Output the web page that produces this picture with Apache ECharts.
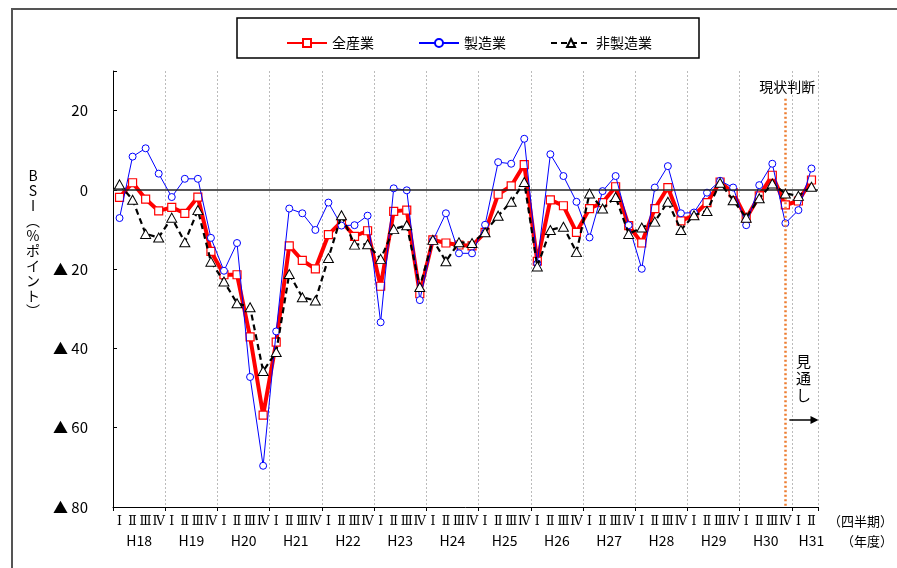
<!DOCTYPE html>
<html><head><meta charset="utf-8">
<script src="https://cdn.jsdelivr.net/npm/echarts@6/dist/echarts.min.js"></script>
<style>html,body{margin:0;padding:0;background:#fff}#c{width:897px;height:568px}</style>
</head><body><div id="c"></div>
<script>
// ---- data ----
const years = ['H18','H19','H20','H21','H22','H23','H24','H25','H26','H27','H28','H29','H30','H31'];
const quarterNames = ['Ⅰ','Ⅱ','Ⅲ','Ⅳ'];
const quartersInLastYear = 2;
const allIndustries = [
  -1.9, 1.8, -2.3, -5.3,
  -4.4, -5.9, -1.8, -15.5,
  -21.4, -21.4, -37.1, -56.8,
  -38.4, -14.1, -17.8, -19.9,
  -11.3, -8.0, -11.7, -10.3,
  -24.3, -5.4, -5.1, -26.2,
  -12.6, -13.4, -13.9, -14.1,
  -10.7, -1.1, 1.0, 6.4,
  -18.0, -2.5, -4.0, -10.7,
  -4.7, -3.2, 0.8, -9.0,
  -13.4, -4.7, 0.6, -7.8,
  -6.4, -3.2, 2.0, -0.7,
  -7.2, -1.5, 3.7, -3.8,
  -2.8, 2.5
];
const manufacturing = [
  -7.1, 8.4, 10.5, 4.1,
  -1.8, 2.8, 2.8, -12.1,
  -20.4, -13.4, -47.2, -69.6,
  -35.7, -4.7, -5.9, -10.1,
  -3.2, -9.0, -8.9, -6.5,
  -33.4, 0.4, -0.1, -27.8,
  -12.8, -5.9, -16.0, -16.0,
  -8.8, 7.0, 6.6, 12.9,
  -18.6, 9.0, 3.5, -3.0,
  -12.0, -0.3, 3.5, -8.9,
  -19.9, 0.6, 6.0, -5.9,
  -5.7, -0.7, 2.3, 0.6,
  -8.9, 1.2, 6.6, -8.4,
  -5.1, 5.4
];
const nonManufacturing = [
  1.4, -2.5, -11.1, -12.0,
  -7.0, -13.2, -5.1, -18.1,
  -23.1, -28.6, -29.6, -45.7,
  -40.9, -21.2, -27.1, -27.9,
  -17.2, -6.4, -13.8, -13.7,
  -17.4, -9.9, -8.9, -24.5,
  -12.6, -18.0, -13.2, -13.4,
  -10.7, -6.5, -3.0, 2.0,
  -19.3, -10.1, -9.3, -15.7,
  -0.9, -4.7, -1.8, -11.1,
  -9.5, -8.0, -3.0, -10.1,
  -6.4, -5.3, 1.8, -2.6,
  -7.0, -2.1, 1.6, -0.9,
  -1.5, 0.8
];
const seriesNames = ['全産業','製造業','非製造業'];
const yMin = -80, yMax = 30, yStep = 20;
const judgeIndex = 51;   // 現状判断 (H30 Ⅳ)
const judgeTop = 23;

// ---- categories ----
const categories = [];
const yearStart = [];
years.forEach((y, i) => {
  const n = i === years.length - 1 ? quartersInLastYear : 4;
  yearStart.push(categories.length);
  for (let q = 0; q < n; q++) categories.push(y + '-' + quarterNames[q]);
});

const FONT = 'Noto Sans CJK JP';
const chart = echarts.init(document.getElementById('c'));
const yearBoundary = (idx) => idx % 4 === 0 && idx > 0;

chart.setOption({
  animation: false,
  backgroundColor: '#fff',
  textStyle: { fontFamily: FONT },
  grid: { left: 113, right: 79, top: 71, bottom: 61 },
  legend: {
    left: 281, top: 31,
    itemWidth: 40, itemHeight: 10, itemGap: 44,
    textStyle: { fontFamily: FONT, fontSize: 14, color: '#000' },
    data: seriesNames
  },
  xAxis: {
    type: 'category',
    data: categories,
    boundaryGap: true,
    axisLine: { onZero: false, lineStyle: { color: '#000', width: 1 } },
    axisTick: { show: true, interval: (i) => i % 4 === 0, length: 4, lineStyle: { color: '#000' } },
    axisLabel: {
      interval: 0, margin: 8, color: '#000', fontSize: 12.5, fontFamily: 'DejaVu Serif',
      formatter: (v) => v.split('-')[1]
    },
    splitLine: { show: true, interval: (i) => yearBoundary(i), lineStyle: { color: '#bbb', type: [2, 2], width: 1 } }
  },
  yAxis: {
    type: 'value',
    min: yMin, max: yMax, interval: yStep,
    axisLine: { show: true, lineStyle: { color: '#000', width: 1 } },
    axisTick: { show: true, inside: true, length: 4, lineStyle: { color: '#000' } },
    splitLine: { show: false },
    axisLabel: {
      margin: 25, color: '#000', fontSize: 15, fontFamily: FONT,
      formatter: (v) => v === yMax ? '' : (v < 0 ? '▲ ' + (-v) : String(v))
    }
  },
  series: [
    {
      name: seriesNames[0], type: 'line', data: allIndustries,
      symbol: 'rect', symbolSize: 8, showAllSymbol: true,
      lineStyle: { color: '#ff0000', width: 4 },
      itemStyle: { color: '#fff', borderColor: '#ff0000', borderWidth: 1.2 },
      z: 3,
      markLine: {
        silent: true, symbol: 'none', label: { show: false },
        data: [
          { yAxis: 0, lineStyle: { color: '#222', width: 1.5, type: 'solid' } },
          [ { coord: [judgeIndex, judgeTop] }, { coord: [judgeIndex, yMin] } ]
        ],
        lineStyle: { color: '#ED7D31', width: 2.5, type: [2, 2.5] }
      }
    },
    {
      name: seriesNames[1], type: 'line', data: manufacturing,
      symbol: 'circle', symbolSize: 7, showAllSymbol: true,
      lineStyle: { color: '#0000ff', width: 1 },
      itemStyle: { color: '#fff', borderColor: '#0000ff', borderWidth: 1 },
      z: 4
    },
    {
      name: seriesNames[2], type: 'line', data: nonManufacturing,
      symbol: 'triangle', symbolSize: [10, 9], showAllSymbol: true,
      lineStyle: { color: '#000', width: 2.2, type: [6, 4] },
      itemStyle: { color: '#fff', borderColor: '#000', borderWidth: 1 },
      z: 5
    }
  ]
});

// ---- annotations positioned through the axes ----
const px = (i, v) => chart.convertToPixel({ xAxisIndex: 0, yAxisIndex: 0 }, [i, v]);
const axisY = px(0, yMin)[1];
const graphics = [
  { type: 'rect', shape: { x: 12, y: 9, width: 900, height: 600 }, style: { fill: null, stroke: '#555', lineWidth: 2 }, silent: true, z: 0 },
  { type: 'rect', shape: { x: 237, y: 18, width: 462, height: 40 }, style: { fill: null, stroke: '#000', lineWidth: 1.5 }, silent: true },
  { type: 'text', left: 26, top: 168,
    style: { text: ['B','S','I','︵','%','ポ','イ','ン','ト','︶'].join('\n'), font: '14px "' + FONT + '"', fill: '#000', lineHeight: 15, textAlign: 'center' } },
  { type: 'text', x: 893, y: axisY + 14, style: { text: '（四半期）', font: '13px "' + FONT + '"', fill: '#000', textAlign: 'right', textVerticalAlign: 'middle' } },
  { type: 'text', x: 893, y: axisY + 34, style: { text: '（年度）', font: '13px "' + FONT + '"', fill: '#000', textAlign: 'right', textVerticalAlign: 'middle' } }
];
years.forEach((y, i) => {
  const start = yearStart[i];
  const n = i === years.length - 1 ? quartersInLastYear : 4;
  const c = Math.min(start + 1.5, start + n - 1);
  const x = (px(Math.floor(c), 0)[0] + px(Math.ceil(c), 0)[0]) / 2;
  graphics.push({ type: 'text', x: x, y: axisY + 34,
    style: { text: y, font: '14px "' + FONT + '"', fill: '#000', textAlign: 'center', textVerticalAlign: 'middle' } });
});
const jp = px(judgeIndex, judgeTop);
graphics.push({ type: 'text', x: jp[0] + 2, y: jp[1] - 12,
  style: { text: '現状判断', font: '14px "' + FONT + '"', fill: '#000', textAlign: 'center', textVerticalAlign: 'middle' } });
const fx = px(judgeIndex + 1, 0)[0];
graphics.push({ type: 'text', x: fx + 5, y: 353,
  style: { text: '見\n通\nし', font: '15px "' + FONT + '"', fill: '#000', textAlign: 'center', lineHeight: 17 } });
const ax0 = jp[0] + 4, ax1 = px(categories.length - 1, 0)[0] + 7, ay = 420;
graphics.push({ type: 'line', shape: { x1: ax0, y1: ay, x2: ax1 - 6, y2: ay }, style: { stroke: '#000', lineWidth: 1.5 } });
graphics.push({ type: 'polygon', shape: { points: [[ax1, ay], [ax1 - 8, ay - 4], [ax1 - 8, ay + 4]] }, style: { fill: '#000' } });
chart.setOption({ graphic: graphics });
</script>
</body></html>
